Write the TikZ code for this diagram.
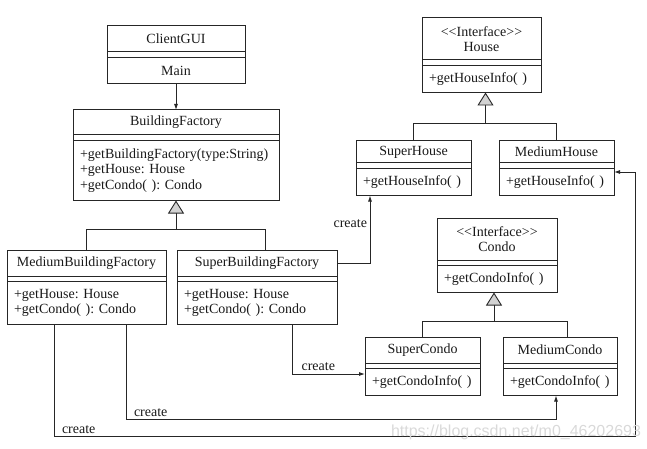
\documentclass[tikz,border=0pt]{standalone}
\usepackage{fontspec}
\setmainfont{Liberation Serif}
\newfontfamily\wmfont{Liberation Sans}
\usetikzlibrary{positioning,arrows.meta}
\frenchspacing

\begin{document}
\begin{tikzpicture}[x=1pt, y=-1pt,
    every node/.style={font=\fontsize{14}{15.5}\selectfont, text=black!90, outer sep=0pt},
    cname/.style={draw=black!85, line width=1pt, minimum width=#1, minimum height=26pt, inner sep=0pt, align=center},
    cattr/.style={draw=black!85, line width=1pt, minimum width=#1, minimum height=5.5pt, inner sep=0pt},
    cops/.style={draw=black!85, line width=1pt, text width=#1, minimum height=27pt, inner xsep=7pt, inner ysep=0pt, align=left},
    dep/.style={draw=black!85, line width=0.9pt, -{Latex[length=6pt, width=4pt]}},
    gen/.style={draw=black!85, line width=0.9pt, -{Triangle[length=13pt, width=16pt, fill=gray!35]}},
    line/.style={draw=black!85, line width=0.9pt}]
  \useasboundingbox (0,0) rectangle (647,449);
  % ClientGUI
  \node[cname=138pt] (cguin) at (176,39) {ClientGUI};
  \node[cattr=138pt, below=0pt of cguin] (cguia) {};
  \node[cname=138pt, below=0pt of cguia] (cguio) {Main};
  % BuildingFactory
  \node[cname=206pt, minimum height=25pt] (bfn) at (176,122.5) {BuildingFactory};
  \node[cattr=206pt, below=0pt of bfn] (bfa) {};
  \node[cops=192pt, minimum height=60pt, below=0pt of bfa] (bfo) {+getBuildingFactory(type:String)\\+getHouse: House\\+getCondo( ): Condo};
  % MediumBuildingFactory
  \node[cname=159pt] (mbfn) at (86.5,263) {MediumBuildingFactory};
  \node[cattr=159pt, below=0pt of mbfn] (mbfa) {};
  \node[cops=145pt, minimum height=43pt, below=0pt of mbfa] (mbfo) {+getHouse: House\\+getCondo( ): Condo};
  % SuperBuildingFactory
  \node[cname=160pt] (sbfn) at (257,263) {SuperBuildingFactory};
  \node[cattr=160pt, below=0pt of sbfn] (sbfa) {};
  \node[cops=146pt, minimum height=43pt, below=0pt of sbfa] (sbfo) {+getHouse: House\\+getCondo( ): Condo};
  % House interface
  \node[cname=119pt, minimum height=42pt] (housen) at (481.5,39) {<{}<Interface>{}>\\House};
  \node[cattr=119pt, below=0pt of housen] (housea) {};
  \node[cops=105pt, below=0pt of housea] (houseo) {+getHouseInfo( )};
  % SuperHouse
  \node[cname=115pt, minimum height=22pt] (shn) at (413.5,152) {SuperHouse};
  \node[cattr=115pt, below=0pt of shn] (sha) {};
  \node[cops=101pt, below=0pt of sha] (sho) {+getHouseInfo( )};
  % MediumHouse
  \node[cname=115pt, minimum height=22pt] (mhn) at (556.5,152) {MediumHouse};
  \node[cattr=115pt, below=0pt of mhn] (mha) {};
  \node[cops=101pt, below=0pt of mha] (mho) {+getHouseInfo( )};
  % Condo interface
  \node[cname=120pt, minimum height=42pt] (condon) at (497,239) {<{}<Interface>{}>\\Condo};
  \node[cattr=120pt, below=0pt of condon] (condoa) {};
  \node[cops=106pt, below=0pt of condoa] (condoo) {+getCondoInfo( )};
  % SuperCondo
  \node[cname=115pt] (scn) at (422.5,350) {SuperCondo};
  \node[cattr=115pt, below=0pt of scn] (sca) {};
  \node[cops=101pt, below=0pt of sca] (sco) {+getCondoInfo( )};
  % MediumCondo
  \node[cname=114pt] (mcn) at (560,350) {MediumCondo};
  \node[cattr=114pt, below=0pt of mcn] (mca) {};
  \node[cops=100pt, below=0pt of mca] (mco) {+getCondoInfo( )};
  % association
  \draw[dep] (cguio.south) -- (bfn.north);
  % inheritance
  \draw[line] (mbfn.north) |- ([yshift=-29pt]bfo.south) -| ([xshift=8pt]sbfn.north);
  \draw[gen] ([yshift=-29pt]bfo.south) -- (bfo.south);
  \draw[line] (shn.north) |- ([xshift=4pt, yshift=-31pt]houseo.south) -| (mhn.north);
  \draw[gen] ([xshift=4pt, yshift=-31pt]houseo.south) -- ([xshift=4pt]houseo.south);
  \draw[line] (scn.north) |- ([xshift=-3pt, yshift=-29pt]condoo.south) -| ([xshift=7pt]mcn.north);
  \draw[gen] ([xshift=-3pt, yshift=-29pt]condoo.south) -- ([xshift=-3pt]condoo.south);
  % create
  \draw[dep] (sbfn.east) -| ([xshift=-43.5pt]sho.south) node[pos=0.79, left, inner sep=3pt] {create};
  \draw[dep] ([xshift=35pt]sbfo.south) |- ([yshift=8pt]sco.west) node[pos=0.68, above, inner sep=3pt] {create};
  \draw[dep] ([xshift=39.5pt]mbfo.south) -- ++(0,95) node[above right=1pt and 6pt, inner sep=2pt] {create} -| ([xshift=-4pt]mco.south);
  \draw[dep] ([xshift=-32.5pt]mbfo.south) -- ++(0,112) node[above right=1pt and 6pt, inner sep=2pt] {create} -| ([xshift=21pt, yshift=10pt]mho.east) -- ([yshift=10pt]mho.east);
  % watermark
  \node[font=\wmfont\fontsize{16}{16}\selectfont, text=gray!30] (wm) at (516,432) {https://blog.csdn.net/m0\_46202693};
\end{tikzpicture}
\end{document}
